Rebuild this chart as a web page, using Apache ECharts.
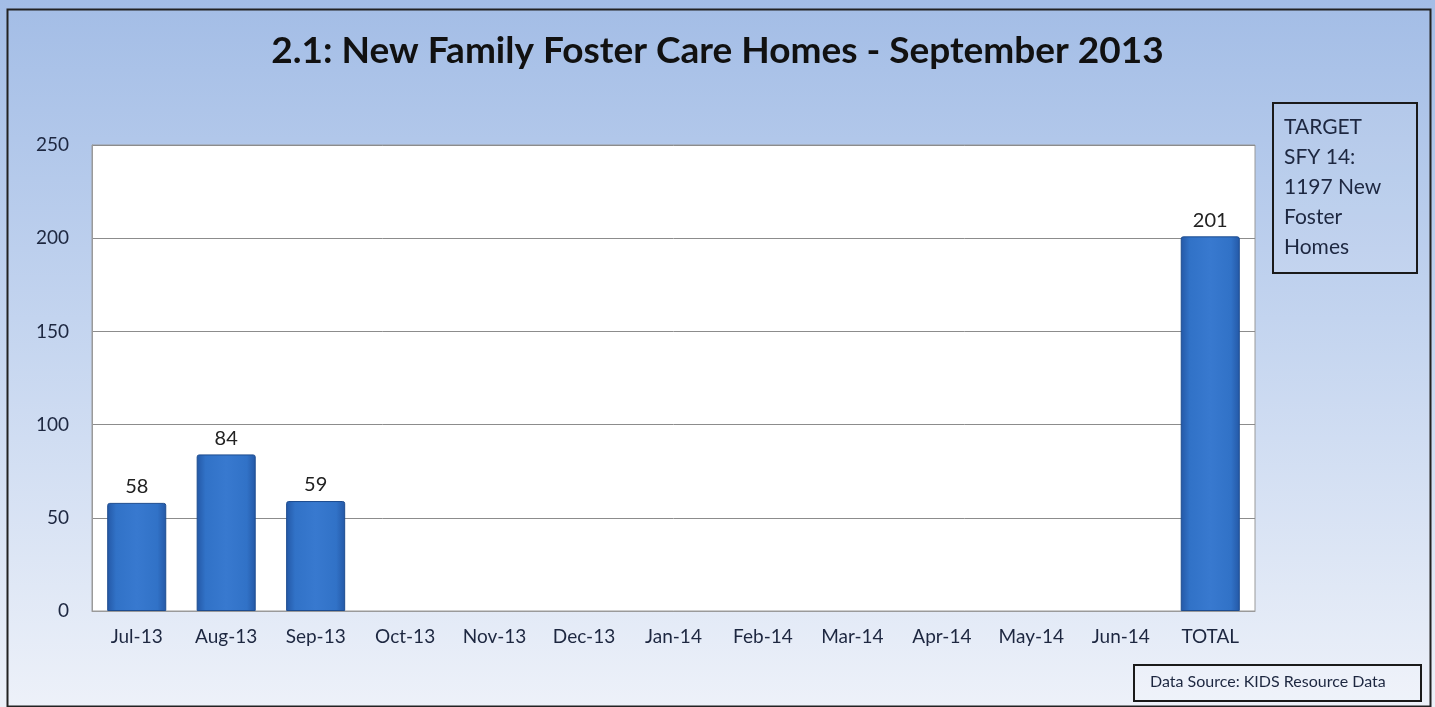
<!DOCTYPE html>
<html>
<head>
<meta charset="utf-8">
<script src="https://cdn.jsdelivr.net/npm/echarts@6/dist/echarts.min.js"></script>
<style>
  html, body { margin: 0; padding: 0; background: #fff; }
  #main { width: 1435px; height: 707px; }
</style>
</head>
<body>
<div id="main"></div>
<script>
  // categories and values
  var months = ['Jul-13','Aug-13','Sep-13','Oct-13','Nov-13','Dec-13','Jan-14','Feb-14','Mar-14','Apr-14','May-14','Jun-14','TOTAL'];
  var homes = [58, 84, 59, null, null, null, null, null, null, null, null, null, 201];
  var yTicks = [0, 50, 100, 150, 200, 250];
  var targetLines = ['TARGET', 'SFY 14:', '1197 New', 'Foster', 'Homes'];
  var sourceText = 'Data Source: KIDS Resource Data';

  var font = 'Lato, "Open Sans", sans-serif';
  var myChart = echarts.init(document.getElementById('main'));

  myChart.setOption({
    backgroundColor: {
      type: 'linear', x: 0, y: 0, x2: 0, y2: 1,
      colorStops: [
        { offset: 0, color: '#a3bde6' },
        { offset: 0.45, color: '#c3d4ef' },
        { offset: 1, color: '#edf1f9' }
      ]
    },
    animation: false,
    title: {
      text: '2.1: New Family Foster Care Homes - September 2013',
      left: 'center',
      top: 28,
      textStyle: { fontFamily: font, fontSize: 37, fontWeight: 'bold', color: '#111' }
    },
    grid: {
      left: 92, top: 145, width: 1163, height: 466,
      show: true, backgroundColor: '#fff', borderColor: '#9a9a9a', borderWidth: 1
    },
    xAxis: {
      type: 'category',
      data: months,
      axisTick: { show: false },
      axisLine: { lineStyle: { color: '#9a9a9a' } },
      axisLabel: { fontFamily: font, fontSize: 19, color: '#1d2740', margin: 16, interval: 0 }
    },
    yAxis: {
      type: 'value',
      min: 0, max: 250, interval: 50,
      axisLine: { show: true, lineStyle: { color: '#9a9a9a' } },
      axisTick: { show: false },
      splitLine: { lineStyle: { color: '#8c8c8c' } },
      axisLabel: { fontFamily: font, fontSize: 19, color: '#1d2740', margin: 23,
        formatter: function (v) { return yTicks.indexOf(v) >= 0 ? String(v) : ''; } }
    },
    series: [{
      type: 'bar',
      data: homes,
      barWidth: '66%',
      itemStyle: {
        color: {
          type: 'linear', x: 0, y: 0, x2: 1, y2: 0,
          colorStops: [
            { offset: 0, color: '#2458a6' },
            { offset: 0.15, color: '#3172c7' },
            { offset: 0.5, color: '#3879cf' },
            { offset: 0.85, color: '#3172c7' },
            { offset: 1, color: '#2458a6' }
          ]
        },
        borderColor: '#1d4c8f',
        borderWidth: 1,
        borderRadius: [2, 2, 0, 0]
      },
      label: {
        show: true, position: 'top', distance: 6,
        fontFamily: font, fontSize: 20, color: '#222'
      }
    }],
    graphic: [
      {
        type: 'rect', left: 5, top: 7, z: 100, silent: true,
        shape: { width: 1423, height: 697 },
        style: { fill: 'none', stroke: '#222', lineWidth: 2 }
      },
      {
        type: 'rect', left: 1272, top: 102, z: 100,
        shape: { width: 144, height: 170 },
        style: { fill: 'rgba(255,255,255,0.08)', stroke: '#1a1a1a', lineWidth: 2 }
      },
      {
        type: 'text', left: 1284, top: 112, z: 101,
        style: { text: targetLines.join('\n'), fontFamily: font, fontSize: 21, lineHeight: 30, fill: '#1d2740' }
      },
      {
        type: 'rect', left: 1133, top: 664, z: 100,
        shape: { width: 287, height: 36 },
        style: { fill: 'rgba(255,255,255,0.15)', stroke: '#1a1a1a', lineWidth: 2 }
      },
      {
        type: 'text', left: 1150, top: 674, z: 101,
        style: { text: sourceText, fontFamily: font, fontSize: 16, fill: '#1d2740' }
      }
    ]
  });
</script>
</body>
</html>
